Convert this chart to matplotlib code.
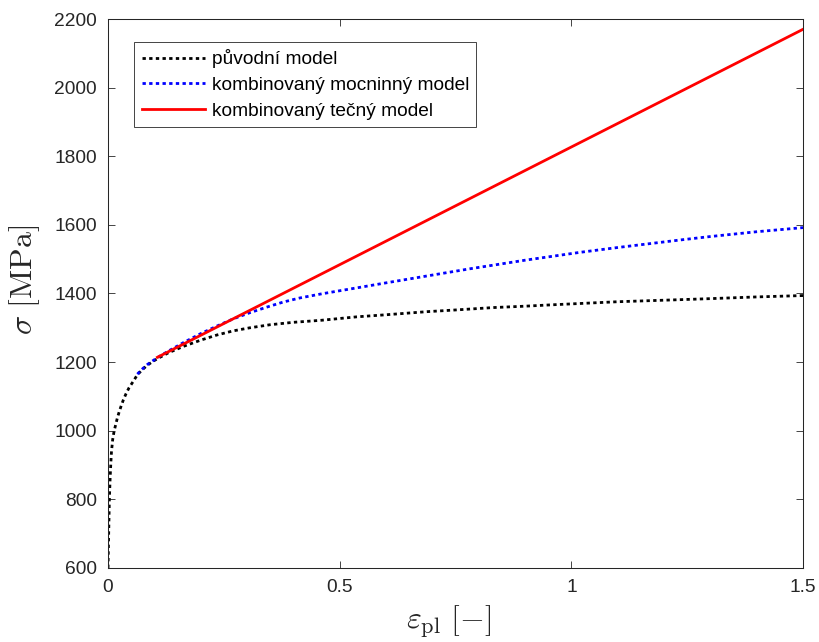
import matplotlib
matplotlib.use("Agg")
import matplotlib.pyplot as plt

# Plastic strain [-] and stress [MPa] for the three hardening models
eps_orig = [0.0, 0.0014, 0.0029, 0.0045, 0.0060, 0.0075, 0.0101, 0.013, 0.0166, 0.0201,
            0.0245, 0.0288, 0.0331, 0.0389, 0.0453, 0.054, 0.0633, 0.0741, 0.0849, 0.0957,
            0.1065, 0.13, 0.163, 0.2, 0.235, 0.27, 0.306, 0.35, 0.4, 0.461, 0.537, 0.6,
            0.688, 0.75, 0.832, 0.9, 0.958, 1.037, 1.1, 1.235, 1.3, 1.4, 1.5]
sig_orig = [600, 700, 800, 860, 905, 940, 975, 998, 1018, 1037,
            1057, 1074, 1090, 1108, 1125, 1143, 1163, 1178, 1191, 1201,
            1210, 1227, 1246, 1264, 1279, 1291, 1300, 1309, 1316, 1322, 1332, 1338,
            1347, 1352, 1359, 1363, 1367, 1372, 1376, 1382, 1385, 1390, 1394]

eps_pow = [0.0633, 0.0741, 0.0849, 0.0957, 0.1065, 0.13, 0.163, 0.2, 0.235, 0.27,
           0.306, 0.342, 0.378, 0.414, 0.461, 0.5, 0.544, 0.6, 0.688, 0.781,
           0.9, 1.019, 1.1, 1.235, 1.3, 1.4, 1.5]
sig_pow = [1165, 1180, 1193, 1203, 1213, 1232, 1257, 1283, 1305, 1326,
           1344, 1360, 1375, 1387, 1399, 1408, 1418, 1431, 1451, 1472,
           1497, 1520, 1534, 1556, 1566, 1580, 1592]

eps_tan = [0.1065, 1.5]
sig_tan = [1214, 2170]

labels = ["původní model", "kombinovaný mocninný model", "kombinovaný tečný model"]
x_ticks = [0, 0.5, 1, 1.5]
x_ticklabels = ["0", "0.5", "1", "1.5"]
y_ticks = [600, 800, 1000, 1200, 1400, 1600, 1800, 2000, 2200]

plt.rcParams["font.family"] = ["Liberation Sans", "DejaVu Sans"]
plt.rcParams["mathtext.fontset"] = "cm"

dark = (0.15, 0.15, 0.15)

fig = plt.figure(figsize=(8.19, 6.42), dpi=100)
ax = fig.add_axes([0.1319, 0.1153, 0.8486, 0.8551])

dotted = (0, (1.2, 1.2))
ax.plot(eps_orig, sig_orig, color="black", lw=2.0, linestyle=dotted, label=labels[0])
ax.plot(eps_pow, sig_pow, color="blue", lw=2.0, linestyle=dotted, label=labels[1])
ax.plot(eps_tan, sig_tan, color="red", lw=2.0, linestyle="-", label=labels[2])

ax.set_xlim(0, 1.5)
ax.set_ylim(600, 2200)
ax.set_xticks(x_ticks)
ax.set_xticklabels(x_ticklabels)
ax.set_yticks(y_ticks)

ax.tick_params(direction="in", length=5, width=0.6, colors=dark, labelsize=13.8,
               top=True, right=True, labelcolor=dark)
ax.tick_params(axis="y", pad=8)
ax.tick_params(axis="x", pad=8)
for s in ax.spines.values():
    s.set_color(dark)
    s.set_linewidth(0.75)

ax.set_xlabel(r"$\varepsilon_{\mathrm{pl}}\ [-]$", fontsize=23, color=dark)
ax.set_ylabel(r"$\sigma\ [\mathrm{MPa}]$", fontsize=23, color=dark)
ax.xaxis.set_label_coords(0.4906, -0.066)
ax.yaxis.set_label_coords(-0.095, 0.525)

leg = ax.legend(loc="upper left", bbox_to_anchor=(0.0378, 0.958), fontsize=13.8,
                frameon=True, fancybox=False, framealpha=1, edgecolor=dark,
                handlelength=3.3, handletextpad=0.35, labelspacing=0.44,
                borderpad=0.38, borderaxespad=0)
leg.get_frame().set_linewidth(0.6)

fig.savefig("out.png", dpi=100)
